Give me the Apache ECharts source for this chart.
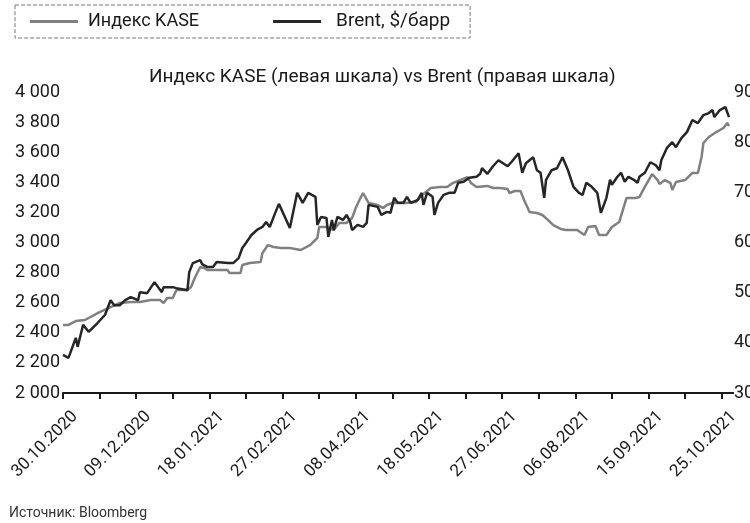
<!DOCTYPE html>
<html>
<head>
<meta charset="utf-8">
<script src="https://cdn.jsdelivr.net/npm/echarts@6/dist/echarts.min.js"></script>
<style>
  html, body { margin: 0; padding: 0; background: #fff; }
  #js-echarts { width: 750px; height: 523px; }
</style>
</head>
<body>
<div id="js-echarts"></div>
<script>
const kaseDates = [
  '2020-10-30','2020-11-02','2020-11-06','2020-11-11','2020-11-14','2020-11-19','2020-11-25','2020-11-30',
  '2020-12-06','2020-12-11','2020-12-17','2020-12-22','2020-12-24','2020-12-26','2020-12-29','2020-12-31',
  '2021-01-06','2021-01-08','2021-01-10','2021-01-13','2021-01-15','2021-01-17','2021-01-22','2021-01-28',
  '2021-01-29','2021-02-04','2021-02-05','2021-02-09','2021-02-15','2021-02-16','2021-02-19','2021-02-22',
  '2021-02-26','2021-03-03','2021-03-09','2021-03-14','2021-03-18','2021-03-19','2021-03-23','2021-03-27',
  '2021-03-30','2021-04-03','2021-04-06','2021-04-08','2021-04-10','2021-04-12','2021-04-15','2021-04-20',
  '2021-04-23','2021-04-25','2021-04-28','2021-05-05','2021-05-11','2021-05-13','2021-05-19','2021-05-24',
  '2021-05-28','2021-05-31','2021-06-04','2021-06-08','2021-06-10','2021-06-13','2021-06-19','2021-06-22',
  '2021-06-26','2021-06-30','2021-07-01','2021-07-04','2021-07-07','2021-07-09','2021-07-12','2021-07-16',
  '2021-07-19','2021-07-22','2021-07-25','2021-07-29','2021-08-01','2021-08-07','2021-08-08','2021-08-11',
  '2021-08-13','2021-08-17','2021-08-19','2021-08-23','2021-08-26','2021-08-30','2021-09-03','2021-09-08',
  '2021-09-10','2021-09-13','2021-09-17','2021-09-20','2021-09-21','2021-09-24','2021-09-27','2021-09-28',
  '2021-09-30','2021-10-05','2021-10-09','2021-10-12','2021-10-14','2021-10-15','2021-10-18','2021-10-22',
  '2021-10-26','2021-10-28','2021-10-29'
];
const kaseValues = [
  2452, 2452, 2478, 2485, 2505, 2538, 2571, 2598,
  2605, 2605, 2618, 2618, 2598, 2631, 2631, 2684,
  2684, 2704, 2764, 2837, 2831, 2817, 2817, 2817,
  2797, 2797, 2851, 2864, 2870, 2930, 2983, 2970,
  2964, 2964, 2950, 2983, 3030, 3103, 3103, 3083,
  3130, 3130, 3163, 3229, 3282, 3329, 3263, 3249,
  3229, 3249, 3263, 3263, 3269, 3302, 3362, 3369,
  3369, 3395, 3415, 3435, 3395, 3369, 3376, 3362,
  3362, 3356, 3329, 3342, 3342, 3282, 3203, 3196,
  3183, 3150, 3116, 3090, 3083, 3083, 3070, 3050,
  3103, 3110, 3050, 3050, 3103, 3136, 3296, 3296,
  3302, 3369, 3455, 3415, 3389, 3415, 3395, 3349,
  3402, 3415, 3462, 3462, 3568, 3661, 3701, 3734,
  3761, 3794, 3774
];

const brentDates = [
  '2020-10-30','2020-11-02','2020-11-06','2020-11-07','2020-11-10','2020-11-13','2020-11-18','2020-11-22',
  '2020-11-25','2020-11-27','2020-11-30','2020-12-03','2020-12-06','2020-12-10','2020-12-11','2020-12-15',
  '2020-12-19','2020-12-23','2020-12-24','2020-12-29','2020-12-31','2021-01-06','2021-01-07','2021-01-09',
  '2021-01-13','2021-01-14','2021-01-17','2021-01-20','2021-01-22','2021-01-28','2021-01-31','2021-02-03',
  '2021-02-05','2021-02-07','2021-02-10','2021-02-13','2021-02-16','2021-02-18','2021-02-20','2021-02-23',
  '2021-02-25','2021-03-03','2021-03-07','2021-03-10','2021-03-13','2021-03-17','2021-03-18','2021-03-20',
  '2021-03-23','2021-03-24','2021-03-26','2021-03-27','2021-03-29','2021-04-01','2021-04-03','2021-04-05',
  '2021-04-06','2021-04-09','2021-04-12','2021-04-14','2021-04-15','2021-04-20','2021-04-22','2021-04-25',
  '2021-04-27','2021-04-29','2021-05-01','2021-05-04','2021-05-06','2021-05-08','2021-05-12','2021-05-14',
  '2021-05-15','2021-05-17','2021-05-20','2021-05-21','2021-05-23','2021-05-26','2021-05-29','2021-06-01',
  '2021-06-03','2021-06-06','2021-06-09','2021-06-13','2021-06-15','2021-06-16','2021-06-19','2021-06-22',
  '2021-06-25','2021-06-30','2021-07-02','2021-07-06','2021-07-08','2021-07-10','2021-07-14','2021-07-16',
  '2021-07-18','2021-07-20','2021-07-21','2021-07-24','2021-07-27','2021-07-30','2021-08-02','2021-08-05',
  '2021-08-08','2021-08-10','2021-08-12','2021-08-15','2021-08-18','2021-08-20','2021-08-23','2021-08-25',
  '2021-08-26','2021-08-29','2021-08-31','2021-09-02','2021-09-04','2021-09-07','2021-09-09','2021-09-10',
  '2021-09-13','2021-09-16','2021-09-19','2021-09-21','2021-09-22','2021-09-25','2021-09-28','2021-09-30',
  '2021-10-03','2021-10-06','2021-10-07','2021-10-09','2021-10-12','2021-10-15','2021-10-18','2021-10-20',
  '2021-10-21','2021-10-24','2021-10-27','2021-10-29'
];
const brentValues = [
  37.6, 37.0, 41.0, 39.2, 43.6, 42.2, 44.0, 45.6,
  48.5, 47.5, 47.5, 48.5, 49.1, 48.5, 50.1, 49.9,
  52.1, 50.1, 51.1, 51.1, 50.9, 50.5, 54.1, 55.9,
  56.5, 55.7, 55.1, 55.1, 56.1, 55.9, 55.9, 56.9,
  58.9, 59.9, 61.5, 62.5, 63.1, 64.1, 63.1, 65.9,
  67.7, 62.9, 69.9, 67.9, 69.9, 69.1, 63.5, 65.1,
  64.9, 61.1, 64.5, 62.5, 65.1, 64.5, 65.5, 64.1,
  62.5, 63.5, 63.1, 63.9, 67.5, 67.1, 65.5, 66.1,
  65.9, 68.9, 67.9, 67.9, 69.1, 67.9, 68.5, 69.9,
  67.5, 69.9, 69.1, 65.5, 67.9, 69.5, 69.9, 69.9,
  71.9, 72.1, 72.9, 73.1, 73.7, 74.8, 73.7, 75.2,
  76.4, 75.2, 76.0, 77.8, 73.9, 75.8, 77.0, 74.4,
  73.9, 68.9, 72.5, 74.4, 74.8, 77.0, 74.4, 71.1,
  69.9, 69.5, 71.9, 71.1, 69.9, 65.9, 68.9, 72.5,
  71.5, 73.1, 73.9, 72.1, 73.1, 72.5, 71.9, 73.1,
  73.9, 76.0, 75.4, 74.4, 76.4, 78.8, 80.0, 79.0,
  80.8, 82.0, 82.8, 84.4, 83.8, 85.4, 85.8, 86.4,
  85.0, 86.4, 87.0, 85.0
];

const tickDates = [
  '2020-10-30','2020-11-19','2020-12-09','2020-12-29','2021-01-18','2021-02-07','2021-02-27',
  '2021-03-19','2021-04-08','2021-04-28','2021-05-18','2021-06-07','2021-06-27','2021-07-17',
  '2021-08-06','2021-08-26','2021-09-15','2021-10-05','2021-10-25'
];
const labelDates = [
  '2020-10-30','2020-12-09','2021-01-18','2021-02-27','2021-04-08',
  '2021-05-18','2021-06-27','2021-08-06','2021-09-15','2021-10-25'
];
const axisEndDate = '2021-10-29';

const DAY = 86400000;
const start = Date.parse(kaseDates[0]);
const dayOf = s => Math.round((Date.parse(s) - start) / DAY);
const pad = n => (n < 10 ? '0' : '') + n;
const fmtDate = d => {
  const t = new Date(start + d * DAY);
  return pad(t.getUTCDate()) + '.' + pad(t.getUTCMonth() + 1) + '.' + t.getUTCFullYear();
};
const thousands = v => String(v).replace(/\B(?=(\d{3})+(?!\d))/g, ' ');

const tickDays = tickDates.map(dayOf);
const labelDays = labelDates.map(dayOf);

const font = 'Roboto';
const ink = '#1a1a1a';

const chart = echarts.init(document.getElementById('js-echarts'));
chart.setOption({
  animation: false,
  backgroundColor: '#fff',
  title: {
    text: 'Индекс KASE (левая шкала) vs Brent (правая шкала)',
    left: 144,
    top: 63,
    textStyle: { fontFamily: font, fontSize: 19, fontWeight: 'normal', color: ink }
  },
  legend: {
    left: 15,
    top: 5,
    padding: [7, 20, 7, 15],
    borderType: 'dashed',
    borderColor: '#777',
    borderWidth: 1,
    icon: 'rect',
    itemWidth: 48,
    itemHeight: 3,
    itemGap: 74,
    textStyle: { fontFamily: font, fontSize: 18, color: ink, padding: [0, 0, 0, 5] },
    data: [
      { name: 'Индекс KASE' },
      { name: 'Brent, $/барр', textStyle: { fontSize: 19, padding: [0, 0, 0, 10] } }
    ]
  },
  grid: { left: 63, right: 21, top: 92, bottom: 130, outerBoundsMode: 'none' },
  xAxis: {
    type: 'value',
    min: 0,
    max: dayOf(axisEndDate),
    interval: 20,
    splitLine: { show: false },
    axisLine: { show: true, lineStyle: { color: ink, width: 2 } },
    axisTick: { show: true, length: 6, lineStyle: { color: ink, width: 2 }, customValues: tickDays },
    axisLabel: {
      customValues: labelDays,
      rotate: 45,
      margin: 9,
      // top-aligned tall line puts the rotated text down-right of its tick, as in the original
      verticalAlign: 'top',
      lineHeight: 34,
      fontFamily: font,
      fontSize: 17,
      color: ink,
      formatter: v => fmtDate(Math.round(v))
    }
  },
  yAxis: [
    {
      type: 'value',
      min: 2000,
      max: 4000,
      interval: 200,
      splitLine: { show: false },
      axisLine: { show: false },
      axisTick: { show: false },
      axisLabel: { margin: 3, fontFamily: font, fontSize: 18, color: ink, formatter: thousands }
    },
    {
      type: 'value',
      position: 'right',
      min: 30,
      max: 90,
      interval: 10,
      splitLine: { show: false },
      axisLine: { show: false },
      axisTick: { show: true, length: 5, lineStyle: { color: ink, width: 2 }, customValues: [30] },
      axisLabel: { margin: 5, fontFamily: font, fontSize: 18, color: ink }
    }
  ],
  series: [
    {
      name: 'Индекс KASE',
      type: 'line',
      yAxisIndex: 0,
      symbol: 'none',
      lineStyle: { color: '#808080', width: 2.5 },
      itemStyle: { color: '#808080' },
      data: kaseDates.map((d, i) => [dayOf(d), kaseValues[i]])
    },
    {
      name: 'Brent, $/барр',
      type: 'line',
      yAxisIndex: 1,
      symbol: 'none',
      lineStyle: { color: '#262626', width: 2.5 },
      itemStyle: { color: '#262626' },
      data: brentDates.map((d, i) => [dayOf(d), brentValues[i]])
    }
  ],
  graphic: [
    {
      type: 'text',
      left: 9,
      top: 506,
      style: { text: 'Источник: Bloomberg', fontFamily: font, fontSize: 14, fill: '#333' }
    }
  ]
});
</script>
</body>
</html>
